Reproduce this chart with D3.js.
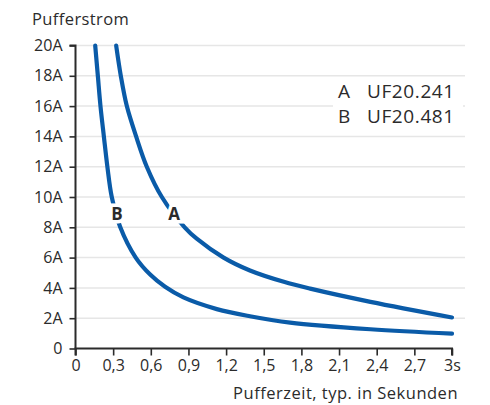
<!DOCTYPE html>
<html><head><meta charset="utf-8">
<script src="https://cdn.jsdelivr.net/npm/d3@7"></script>
<style>
html,body{margin:0;padding:0;background:#fff;}
svg{display:block;font-family:"Open Sans",sans-serif;}
</style></head>
<body>
<svg id="chart" width="490" height="405"></svg>
<script>
// Data
const xTicks = [0, 0.3, 0.6, 0.9, 1.2, 1.5, 1.8, 2.1, 2.4, 2.7, 3];
const xTickLabels = ["0","0,3","0,6","0,9","1,2","1,5","1,8","2,1","2,4","2,7","3s"];
const yTicks = [0,2,4,6,8,10,12,14,16,18,20];
const yTickLabels = ["0","2A","4A","6A","8A","10A","12A","14A","16A","18A","20A"];
const seriesNames = ["A","B"];
const legendLabels = ["UF20.241","UF20.481"];
const timeA = [0.324, 0.361, 0.409, 0.483, 0.568, 0.688, 0.87, 0.966, 1.18, 1.39, 1.66, 1.87, 2.35, 3.0];
const currA = [20, 18, 16, 14, 12, 10, 8, 7.25, 6, 5.15, 4.4, 3.95, 3.08, 2.05];
const timeB = [0.157, 0.178, 0.199, 0.226, 0.254, 0.289, 0.357, 0.48, 0.595, 0.714, 0.86, 1.126, 1.39, 1.71, 2.35, 3.0];
const currB = [20, 18, 16, 14, 12, 10, 8, 6, 4.88, 4.07, 3.37, 2.6, 2.13, 1.71, 1.27, 0.98];
const labelPos = [{t:0.785, i:8.9},{t:0.33, i:8.9}];

const svg = d3.select("#chart");
const x = d3.scaleLinear().domain([0,3]).range([75.5, 452]);
const y = d3.scaleLinear().domain([0,20]).range([348.5, 45.5]);
const ink = "#2b2b2b";
const blue = "#0a5ba8";

// gridlines
svg.append("g").selectAll("line").data(yTicks.filter(d=>d>0)).join("line")
  .attr("x1", x(0)).attr("x2", 465)
  .attr("y1", d=>y(d)).attr("y2", d=>y(d))
  .attr("stroke", "#e6e6e6").attr("stroke-width", 1.5);

// axes
const yAxis = d3.axisLeft(y).tickValues(yTicks).tickFormat((d,i)=>yTickLabels[i]).tickSize(6).tickPadding(7);
const gy = svg.append("g").attr("transform", `translate(${x(0)},0)`).call(yAxis);
const xAxis = d3.axisBottom(x).tickValues(xTicks).tickFormat((d,i)=>xTickLabels[i]).tickSize(7).tickPadding(4);
const gx = svg.append("g").attr("transform", `translate(0,${y(0)})`).call(xAxis);
[gx, gy].forEach(g=>{
  g.select(".domain").attr("stroke", ink).attr("stroke-width", 2);
  g.selectAll(".tick line").attr("stroke", ink).attr("stroke-width", 1.6);
  g.selectAll(".tick text").attr("fill", ink).style("font-size","16px").style("font-family","'Open Sans',sans-serif");
});
gy.select(".domain").attr("d", `M-6,${y(20)}H0V${y(0)}`);
gx.select(".domain").attr("d", `M${x(0)},7V0H${x(3)}V7`);

// legend background + text
svg.append("rect").attr("x", 333).attr("y", 81).attr("width", 130).attr("height", 49).attr("fill", "#fff");
seriesNames.forEach((n,i)=>{
  const t = svg.append("text").attr("y", 97.5 + i*25).attr("fill", ink).style("font-size","19px").style("letter-spacing","0.6px");
  t.append("tspan").attr("x", 338).text(n);
  t.append("tspan").attr("x", 367).text(legendLabels[i]);
});

// curves
const line = d3.line().x(d=>x(d[0])).y(d=>y(d[1])).curve(d3.curveCatmullRom.alpha(0.5));
const data = [d3.zip(timeA, currA), d3.zip(timeB, currB)];
svg.append("g").selectAll("path").data(data).join("path")
  .attr("d", line).attr("fill","none").attr("stroke", blue)
  .attr("stroke-width", 4.2).attr("stroke-linecap","round");

// curve labels
svg.append("g").selectAll("text").data(labelPos).join("text")
  .attr("x", d=>x(d.t)).attr("y", d=>y(d.i)).attr("dy","0.36em")
  .attr("text-anchor","middle").attr("fill", ink)
  .attr("stroke","#fff").attr("stroke-width",7).attr("paint-order","stroke")
  .style("font-size","17px").style("font-weight","bold")
  .text((d,i)=>seriesNames[i]);

// axis titles
svg.append("text").attr("x", 32).attr("y", 25).attr("fill", ink).style("font-size","16.5px").style("letter-spacing","0.4px").text("Pufferstrom");
svg.append("text").attr("x", 458).attr("y", 399).attr("text-anchor","end").attr("fill", ink).style("font-size","16.5px").style("letter-spacing","0.5px").text("Pufferzeit, typ. in Sekunden");
</script>
</body></html>
